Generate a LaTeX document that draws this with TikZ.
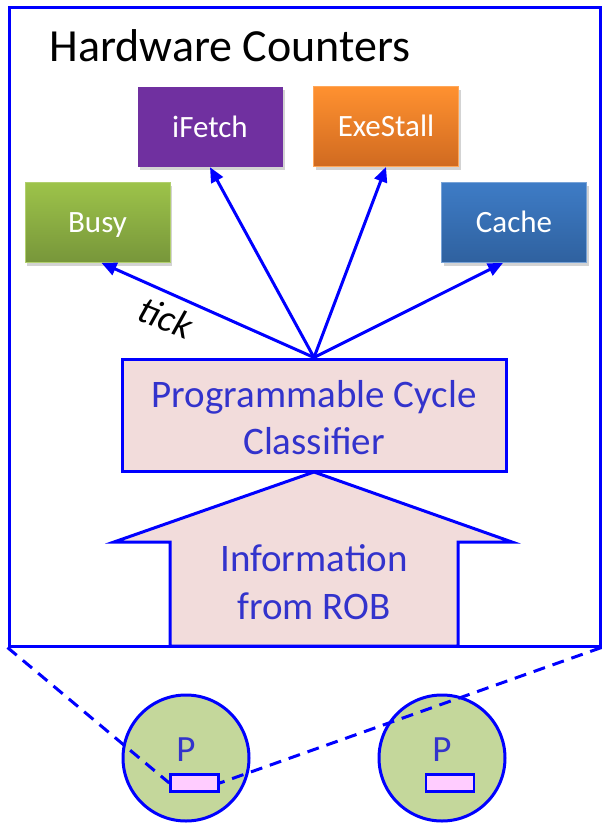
\documentclass[tikz,border=0pt]{standalone}
\usepackage{fontspec}
\setmainfont{Carlito}
\usetikzlibrary{arrows.meta,shadows,calc}

\definecolor{lineblue}{RGB}{0,0,255}
\definecolor{textblue}{RGB}{51,51,204}
\definecolor{pinkfill}{RGB}{242,220,219}
\definecolor{purplebox}{RGB}{112,48,160}
\definecolor{orangetop}{RGB}{255,145,48}
\definecolor{orangebot}{RGB}{208,106,32}
\definecolor{greentop}{RGB}{157,195,74}
\definecolor{greenbot}{RGB}{119,150,58}
\definecolor{bluetop}{RGB}{62,124,198}
\definecolor{bluebot}{RGB}{47,97,159}
\definecolor{coregreen}{RGB}{196,215,155}
\definecolor{slotpink}{RGB}{255,204,255}

\tikzset{
  counter/.style={rectangle, minimum width=145pt, minimum height=80pt, inner sep=0pt,
    text=white, font=\fontsize{31}{36}\selectfont, text height=20pt, text depth=0pt,
    drop shadow={shadow xshift=2pt, shadow yshift=-3pt, opacity=0.35}},
  bluetext/.style={text=textblue, align=center},
  wire/.style={draw=lineblue, line width=3pt},
  fanout/.style={wire, -{Triangle[length=15pt,width=13pt]}},
  core/.style={circle, wire, fill=coregreen, minimum size=126pt, inner sep=0pt},
  slot/.style={rectangle, wire, line width=2.5pt, fill=slotpink, minimum width=48pt, minimum height=17pt, inner sep=0pt},
  zoomline/.style={wire, dash pattern=on 12pt off 8pt},
}

\begin{document}
\begin{tikzpicture}[x=1pt, y=-1pt]
\useasboundingbox (0,0) rectangle (602,825);

% enclosing frame and title
\node[rectangle, wire, minimum width=591pt, minimum height=639pt, inner sep=0pt] (hw) at (304.5,326.5) {};
\node[anchor=base west, font=\fontsize{46}{55}\selectfont] (title) at (46,61) {Hardware Counters};

% counters
\node[counter, fill=purplebox] (ifetch) at (210,127) {iFetch};
\node[counter, top color=orangetop, bottom color=orangebot, draw=orangetop!80!white, line width=0.8pt] (exestall) at (386,126.5) {ExeStall};
\node[counter, top color=greentop, bottom color=greenbot, draw=greentop!80!white, line width=0.8pt] (busy) at (97.5,222.5) {Busy};
\node[counter, top color=bluetop, bottom color=bluebot, draw=bluetop!70!white, line width=0.8pt] (cache) at (514,222.5) {Cache};

% input arrow from the ROB
\coordinate (tipA) at (314,472);
\draw[wire, fill=pinkfill, line join=miter]
  (170,646) -- (170,542) -- (114,542) -- (tipA) -- (512,542) -- (458,542) -- (458,646) -- cycle;
\node[bluetext, font=\fontsize{39}{48}\selectfont] (info) at (314,582) {Information\\from ROB};

% classifier
\node[rectangle, wire, fill=pinkfill, minimum width=384pt, minimum height=112pt, inner sep=0pt] (cls) at (314,415) {};
\node[bluetext, font=\fontsize{39}{47}\selectfont] (clstext) at (314,418) {Programmable Cycle\\Classifier};

% fan-out to the counters
\draw[fanout] (cls.north) -- ($(busy.south)+(4,0)$);
\draw[fanout] (cls.north) -- (ifetch.south);
\draw[fanout] (cls.north) -- (exestall.south);
\draw[fanout] (cls.north) -- ($(cache.south)+(-11,0)$);
\node[rotate=-22, font=\itshape\fontsize{38}{44}\selectfont] (ticklbl) at (166,318) {tick};

% processor cores
\node[core] (p1) at (186,758) {};
\node[core] (p2) at (442,758) {};
\node[text=textblue, font=\fontsize{37}{44}\selectfont, anchor=base] (p1lbl) at (186,761) {P};
\node[text=textblue, font=\fontsize{37}{44}\selectfont, anchor=base] (p2lbl) at (442,761) {P};
\node[slot] (r1) at (194.5,783) {};
\node[slot] (r2) at (450,783) {};

% zoom lines
\draw[zoomline] (hw.south west) -- (r1.west);
\draw[zoomline] (hw.south east) -- (r1.east);
\end{tikzpicture}
\end{document}
